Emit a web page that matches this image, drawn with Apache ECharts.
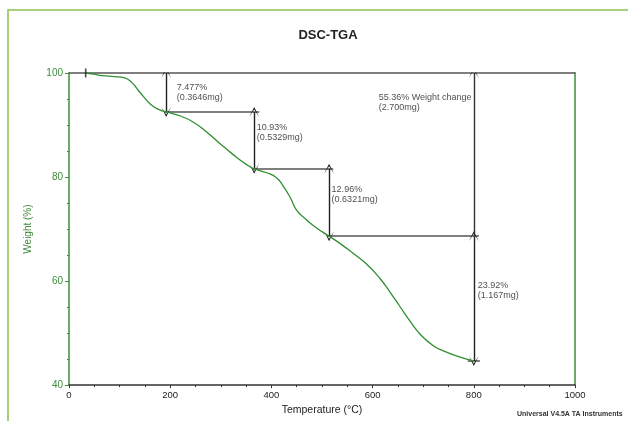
<!DOCTYPE html>
<html>
<head>
<meta charset="utf-8">
<script src="https://cdn.jsdelivr.net/npm/echarts@6/dist/echarts.min.js"></script>
<style>
html,body{margin:0;padding:0;background:#fff;}
#c{width:628px;height:421px;}
</style>
</head>
<body>
<div id="c"></div>
<script>
// ---- data ----
const temps = [33, 48, 65, 90, 110, 124, 140, 160, 175, 192, 219, 246, 272, 298, 325, 351, 366, 391, 410, 423, 437, 450, 470, 490, 514, 536, 562, 588, 615, 634, 654, 674, 694, 720, 746, 773, 800];
const weights = [100, 99.8, 99.5, 99.3, 99.05, 98.2, 96.3, 94.1, 93.1, 92.52, 91.78, 90.54, 88.66, 86.46, 84.26, 82.38, 81.59, 80.82, 79.88, 78.32, 76.11, 73.61, 71.73, 70.15, 68.63, 67.2, 65.3, 63.27, 60.45, 57.93, 55.11, 52.29, 49.78, 47.58, 46.34, 45.40, 44.64];

const xTicks = [0, 200, 400, 600, 800, 1000];
const yTicks = [40, 60, 80, 100];

// double-headed step arrows (temperature, upper weight, lower weight)
const arrowT = [192, 366, 514, 800];
const arrowTop = [100, 92.52, 81.59, 68.63];
const arrowBottom = [92.52, 81.59, 68.63, 44.64];
// total-change arrow (head at top only)
const totalT = [800];
const totalTop = [100];
const totalBottom = [68.63];

// horizontal guide lines
const hLineW = [92.52, 81.59, 68.63, 44.64];
const hLineStart = [188, 362, 510, 788];
const hLineEnd = [376, 522, 810, 812];

// annotation texts and their anchors (data coordinates)
const noteText = ['7.477%\n(0.3646mg)', '10.93%\n(0.5329mg)', '12.96%\n(0.6321mg)', '55.36% Weight change\n(2.700mg)', '23.92%\n(1.167mg)'];
const noteT = [213, 371, 519, 612, 808];
const noteW = [98.25, 90.54, 78.62, 96.3, 60.13];

const startT = [33];
const startW = [100];

// ---- chart ----
const green = '#3d8b3d';
const chart = echarts.init(document.getElementById('c'));
const curve = temps.map((t, i) => [t, weights[i]]);
const arrows = arrowT.map((t, i) => ({coords: [[t, arrowTop[i]], [t, arrowBottom[i]]]}));
const totals = totalT.map((t, i) => ({coords: [[t, totalBottom[i]], [t, totalTop[i]]]}));
const hlines = hLineW.map((w, i) => ({coords: [[hLineStart[i], w], [hLineEnd[i], w]]}));
const notes = noteT.map((t, i) => ({value: [t, noteW[i]], name: noteText[i]}));
const arrowPath = 'path://M5,0 L10,12 L5,3 L0,12 Z';

chart.setOption({
  animation: false,
  backgroundColor: '#fff',
  title: {
    text: 'DSC-TGA', left: 323, top: 24, textAlign: 'center',
    textStyle: {fontFamily: 'Liberation Sans, Arial', fontSize: 13, fontWeight: 'bold', color: '#222'}
  },
  grid: {left: 69, right: 53, top: 73, bottom: 29},
  xAxis: [{
    type: 'value', min: 0, max: 1000, interval: 200,
    name: 'Temperature (°C)', nameLocation: 'middle', nameGap: 18,
    nameTextStyle: {fontFamily: 'Liberation Sans, Arial', fontSize: 10.5, color: '#222'},
    axisLine: {show: true, onZero: false, lineStyle: {color: '#333', width: 1.5}},
    axisTick: {show: true, length: 3, lineStyle: {color: '#333'}},
    minorTick: {show: true, splitNumber: 4, length: 2, lineStyle: {color: '#333'}},
    axisLabel: {fontFamily: 'Liberation Sans, Arial', fontSize: 9.5, color: '#222', margin: 5,
      formatter: v => xTicks.includes(v) ? String(v) : ''},
    splitLine: {show: false}
  }, {
    type: 'value', min: 0, max: 1000, position: 'top',
    axisLine: {show: true, onZero: false, lineStyle: {color: '#555', width: 1.5}},
    axisTick: {show: false}, axisLabel: {show: false}, splitLine: {show: false}
  }],
  yAxis: [{
    type: 'value', min: 40, max: 100, interval: 20,
    name: 'Weight (%)', nameLocation: 'middle', nameGap: 36,
    nameTextStyle: {fontFamily: 'Liberation Sans, Arial', fontSize: 10, color: green},
    axisLine: {show: true, onZero: false, lineStyle: {color: green, width: 1.5}},
    axisTick: {show: true, length: 4, lineStyle: {color: green}},
    minorTick: {show: true, splitNumber: 4, length: 2, lineStyle: {color: green}},
    axisLabel: {fontFamily: 'Liberation Sans, Arial', fontSize: 10, color: green, margin: 6,
      formatter: v => yTicks.includes(v) ? String(v) : ''},
    splitLine: {show: false}
  }, {
    type: 'value', min: 40, max: 100, position: 'right',
    axisLine: {show: true, onZero: false, lineStyle: {color: green, width: 1.5}},
    axisTick: {show: false}, axisLabel: {show: false}, splitLine: {show: false}
  }],
  graphic: [{
    type: 'rect', silent: true, z: -1,
    shape: {x: 8, y: 10, width: 700, height: 500},
    style: {fill: 'none', stroke: '#8cc152', lineWidth: 1.5}
  }, {
    type: 'text', left: 517, top: 411,
    style: {text: 'Universal V4.5A TA Instruments', font: 'bold 7px Liberation Sans, Arial', fill: '#333'}
  }],
  series: [{
    type: 'lines', coordinateSystem: 'cartesian2d', z: 3,
    data: hlines, symbol: ['none', 'none'],
    lineStyle: {color: '#555', width: 1.5, opacity: 1}
  }, {
    type: 'lines', coordinateSystem: 'cartesian2d', z: 4,
    data: arrows, symbol: [arrowPath, arrowPath], symbolSize: 10,
    lineStyle: {color: '#222', width: 1.4, opacity: 1},
    itemStyle: {color: '#222'}
  }, {
    type: 'lines', coordinateSystem: 'cartesian2d', z: 4,
    data: totals, symbol: ['none', arrowPath], symbolSize: 10,
    lineStyle: {color: '#333', width: 1.4, opacity: 1},
    itemStyle: {color: '#333'}
  }, {
    type: 'line', data: curve, smooth: 0.5, showSymbol: false, z: 5,
    lineStyle: {color: '#2f8f2f', width: 1.3}
  }, {
    type: 'scatter', data: startT.map((t, i) => [t, startW[i]]), z: 6,
    symbol: 'rect', symbolSize: [1.6, 9], itemStyle: {color: '#222'}
  }, {
    type: 'scatter', data: notes, symbolSize: 0, z: 6,
    label: {
      show: true, position: [0, 0], align: 'left', verticalAlign: 'top',
      formatter: p => p.name, fontFamily: 'Liberation Sans, Arial', fontSize: 9, lineHeight: 10, color: '#222'
    }
  }]
});
</script>
</body>
</html>
